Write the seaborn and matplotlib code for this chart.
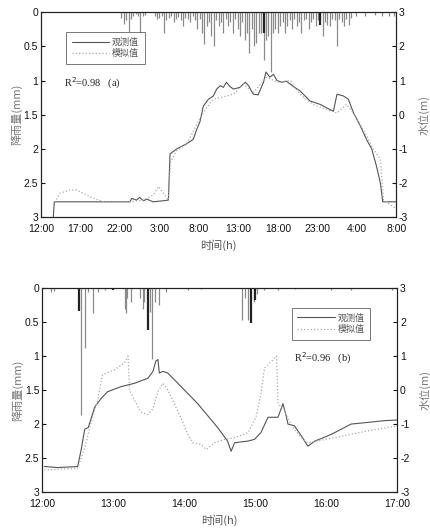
import numpy as np
import pandas as pd
import matplotlib
matplotlib.use("Agg")
import matplotlib.pyplot as plt
import seaborn as sns

sns.set_theme(style="white")
plt.rcParams['font.family'] = ['Liberation Sans', 'Noto Sans CJK SC', 'DejaVu Sans']
plt.rcParams['axes.unicode_minus'] = False

# ---------------- data: panel (a) ----------------
xticks_a = [0, 5, 10, 15, 20, 25, 30, 35, 40, 45]
xlabels_a = ["12:00", "17:00", "22:00", "3:00", "8:00", "13:00", "18:00", "23:00", "4:00", "8:00"]

obs_a_t = [1.56, 1.69, 11.28, 11.5, 12.1, 12.5, 12.97, 13.4, 14.2, 15.5, 16.14, 16.35, 17.2, 18.46,
           19.3, 19.7, 20.15, 20.57, 21.2, 21.84, 22.26, 22.7, 23.1, 23.5, 23.95, 24.4, 25.2, 25.9,
           26.3, 26.9, 27.5, 28.2, 28.5, 29.0, 29.45, 29.9, 30.5, 31.1, 32.0, 32.8, 34.1, 35.4,
           36.2, 37.05, 37.5, 38.3, 38.95, 39.6, 40.4, 41.3, 41.9, 42.5, 43.0, 43.3, 45.0]
obs_a_v = [-3.0, -2.55, -2.55, -2.45, -2.5, -2.42, -2.52, -2.47, -2.55, -2.52, -2.5, -1.15, -1.0, -0.85,
           -0.72, -0.45, -0.2, 0.25, 0.45, 0.55, 0.75, 0.85, 0.8, 0.95, 0.82, 0.75, 0.8, 0.95,
           0.85, 0.6, 0.58, 0.95, 1.25, 1.1, 1.18, 1.0, 0.95, 0.98, 0.82, 0.7, 0.4, 0.3,
           0.2, 0.1, 0.6, 0.55, 0.45, 0.05, -0.3, -0.75, -1.0, -1.5, -2.0, -2.55, -2.55]

sim_a_t = [1.56, 2.4, 3.7, 4.5, 6.2, 7.9, 11.28, 13.0, 14.2, 14.9, 15.5, 16.14, 16.4, 17.2, 18.5,
           20.15, 21.0, 21.8, 22.7, 24.4, 25.6, 26.9, 28.6, 29.9, 31.6, 32.8, 34.5, 36.2, 37.5,
           38.7, 39.6, 40.85, 42.1, 43.0, 43.4, 45.0]
sim_a_v = [-2.65, -2.3, -2.2, -2.2, -2.4, -2.55, -2.55, -2.5, -2.35, -2.1, -2.3, -2.5, -1.4, -1.05, -0.85,
           -0.1, 0.2, 0.45, 0.5, 0.6, 0.9, 0.65, 1.1, 0.95, 1.0, 0.6, 0.3, 0.15, 0.05,
           0.3, 0.05, -0.45, -1.0, -1.3, -2.5, -2.75]

rain_a_t = [10.2, 10.5, 10.8, 11.1, 11.4, 11.7, 12.0, 12.3, 12.6, 12.9, 13.2,
            14.4, 14.7, 15.0, 15.3, 15.6, 15.9, 16.2, 16.5, 16.8, 17.1, 17.4, 17.7, 18.0, 18.3,
            18.6, 18.9, 19.2, 19.5, 19.8, 20.1,
            20.4, 20.7, 21.0, 21.3, 21.6, 21.9, 22.2, 22.5, 22.8, 23.1, 23.4,
            23.7, 24.0, 24.3, 24.6, 24.9, 25.2, 25.5, 25.8, 26.1, 26.4, 26.7, 27.0, 27.3, 27.6,
            27.9, 28.2, 28.5, 28.8, 29.1, 29.4, 29.7, 30.0, 30.3, 30.6, 30.9, 31.2,
            31.5, 31.8, 32.1, 32.4, 32.7, 33.0, 33.3, 33.6, 33.9, 34.2, 34.5, 34.8, 35.1, 35.4,
            35.7, 36.0, 36.3, 36.6, 36.9, 37.2,
            37.5, 37.8, 38.1, 38.4, 38.7, 39.0, 39.3, 39.9, 41.1, 42.3, 43.2, 44.1, 44.7]
rain_a_v = [0.08, 0.17, 0.12, 0.29, 0.10, 0.05, 0.03, 0.05, 0.32, 0.06, 0.04,
            0.06, 0.10, 0.08, 0.05, 0.30, 0.12, 0.08, 0.06, 0.15, 0.10, 0.07, 0.12, 0.20, 0.08,
            0.10, 0.15, 0.06, 0.12, 0.25, 0.10,
            0.30, 0.46, 0.20, 0.15, 0.35, 0.49, 0.12, 0.20, 0.15, 0.30, 0.10,
            0.20, 0.15, 0.30, 0.10, 0.25, 0.35, 0.15, 0.40, 0.30, 0.60, 0.25, 0.50, 0.45, 0.30,
            0.30, 0.70, 0.40, 0.35, 0.88, 0.30, 0.25, 0.30, 0.20, 0.15, 0.30, 0.20,
            0.12, 0.25, 0.10, 0.20, 0.15, 0.30, 0.12, 0.10, 0.25, 0.15, 0.10, 0.20, 0.12, 0.10,
            0.35, 0.15, 0.18, 0.20, 0.10, 0.12,
            0.49, 0.10, 0.15, 0.20, 0.10, 0.18, 0.08, 0.05, 0.05, 0.04, 0.05, 0.06, 0.05]
rain_a_dark_t = [28.2, 35.4]
rain_a_dark_v = [0.30, 0.18]

# ---------------- data: panel (b) ----------------
xticks_b = [12, 13, 14, 15, 16, 17]
xlabels_b = ["12:00", "13:00", "14:00", "15:00", "16:00", "17:00"]

obs_b_t = [12.03, 12.22, 12.5, 12.55, 12.6, 12.65, 12.74, 12.83, 12.92, 13.11, 13.3, 13.49, 13.56,
           13.6, 13.63, 13.65, 13.7, 13.77, 13.91, 14.05, 14.19, 14.33, 14.47, 14.61, 14.66, 14.71,
           14.9, 14.99, 15.08, 15.18, 15.32, 15.39, 15.44, 15.46, 15.55, 15.65, 15.74, 15.84,
           16.02, 16.12, 16.35, 16.59, 16.82, 17.0]
obs_b_v = [-2.25, -2.28, -2.25, -1.75, -1.15, -1.1, -0.5, -0.25, -0.05, 0.1, 0.2, 0.35, 0.55,
           0.85, 0.9, 0.5, 0.55, 0.5, 0.2, -0.1, -0.4, -0.75, -1.1, -1.5, -1.8, -1.55,
           -1.5, -1.45, -1.25, -0.8, -0.8, -0.4, -0.8, -1.0, -1.05, -1.35, -1.65, -1.5,
           -1.35, -1.25, -1.0, -0.95, -0.9, -0.88]

sim_b_t = [12.03, 12.5, 12.6, 12.67, 12.78, 12.85, 13.02, 13.16, 13.21, 13.23, 13.3, 13.39, 13.49,
           13.56, 13.63, 13.7, 13.77, 13.86, 13.96, 14.05, 14.12, 14.24, 14.31, 14.43, 14.57,
           14.71, 14.9, 15.01, 15.08, 15.13, 15.23, 15.3, 15.32, 15.41, 15.51, 15.65, 15.74,
           16.12, 16.59, 17.0]
sim_b_v = [-2.35, -2.3, -1.7, -1.1, -0.3, 0.45, 0.6, 0.8, 1.0, 0.0, -0.3, -0.65, -0.72,
           -0.55, -0.05, 0.2, 0.0, -0.4, -0.85, -1.3, -1.55, -1.6, -1.75, -1.55, -1.45,
           -1.4, -1.25, -0.8, -0.1, 0.65, 0.85, 1.0, -0.4, -0.6, -1.05, -1.4, -1.55,
           -1.4, -1.2, -1.05]

rain_b_t = [12.13, 12.17, 12.55, 12.6, 12.65, 12.72, 12.78, 12.88, 13.16, 13.18, 13.2, 13.25,
            13.38, 13.42, 13.44, 13.52, 13.55, 13.59, 13.64, 13.75, 14.05, 14.24, 14.81, 14.85,
            14.9, 14.98, 15.03, 15.13, 15.32, 15.56, 16.07, 16.35, 16.92]
rain_b_v = [0.05, 0.04, 1.87, 0.88, 0.05, 0.37, 0.05, 0.03, 0.30, 0.37, 0.15, 0.20,
            0.15, 0.30, 0.20, 0.35, 1.05, 0.20, 0.25, 0.05, 0.03, 0.02, 0.47, 0.15,
            0.47, 0.20, 0.08, 0.03, 0.03, 0.02, 0.03, 0.03, 0.03]
rain_b_dark_t = [12.52, 13.0, 13.49, 14.94, 15.0]
rain_b_dark_v = [0.33, 0.03, 0.61, 0.52, 0.17]

# ---------------- drawing ----------------
fig = plt.figure(figsize=(4.3, 5.31), dpi=100)
fs = 7.5
lab_color = "#777777"
obs_color = "#555555"
sim_color = "#aaaaaa"


def panel(rect, xlim, xticks, xlabels, rt, rv, rdt, rdv,
          ot, ov, st, sv, leg_anchor, r2_text, r2_xy):
    ax = fig.add_axes(rect)
    ax.vlines(rt, 0, rv, colors="#8a8a8a", linewidth=0.9, zorder=2)
    ax.vlines(rdt, 0, rdv, colors="#222222", linewidth=1.6, zorder=3)
    ax.set_ylim(3, 0)
    ax.set_yticks([0, 0.5, 1, 1.5, 2, 2.5, 3])
    ax.set_yticklabels(["0", "0.5", "1", "1.5", "2", "2.5", "3"])
    ax.set_xlim(*xlim)
    ax.set_xticks(xticks)
    ax.set_xticklabels(xlabels)
    ax.set_ylabel("降雨量(mm)", fontsize=fs + 0.5, color=lab_color,
                  family=['Noto Sans CJK SC', 'DejaVu Sans'], labelpad=1)
    ax.set_xlabel("时间(h)", fontsize=fs + 0.5, color="#555555",
                  family=['Noto Sans CJK SC', 'DejaVu Sans'], labelpad=4)
    ax2 = ax.twinx()
    ax2.patch.set_visible(False)
    dfo = pd.DataFrame({"t": ot, "v": ov})
    dfs = pd.DataFrame({"t": st, "v": sv})
    sns.lineplot(data=dfo, x="t", y="v", ax=ax2, color=obs_color, lw=0.8,
                 estimator=None, sort=False, label="观测值")
    sns.lineplot(data=dfs, x="t", y="v", ax=ax2, color=sim_color, lw=0.9,
                 linestyle=":", estimator=None, sort=False, label="模拟值")
    ax2.set_ylim(-3, 3)
    ax2.set_yticks([3, 2, 1, 0, -1, -2, -3])
    ax2.set_yticklabels(["3", "2", "1", "0", "-1", "-2", "-3"])
    ax2.set_xlim(*xlim)
    ax2.set_xlabel("")
    ax2.set_ylabel("水位(m)", fontsize=fs + 0.5, color=lab_color,
                   family=['Noto Sans CJK SC', 'DejaVu Sans'], labelpad=7)
    for a in (ax, ax2):
        a.tick_params(direction="in", length=3, width=0.8, labelsize=fs, pad=2, colors="#111111")
        for s in a.spines.values():
            s.set_color("#222222")
            s.set_linewidth(0.8)
    ax.tick_params(axis="x", pad=5)
    leg = ax2.legend(loc="upper left", bbox_to_anchor=leg_anchor, frameon=True,
                     fancybox=False, edgecolor="#555555",
                     prop={'family': ['Noto Sans CJK SC'], 'size': 6.5},
                     handlelength=4.2, borderpad=0.6, labelspacing=0.3,
                     handletextpad=0.3)
    leg.get_frame().set_linewidth(0.7)
    for txt in leg.get_texts():
        txt.set_color("#555555")
    ax2.text(r2_xy[0], r2_xy[1], r2_text, transform=ax2.transAxes, fontsize=7.5,
             family="Liberation Serif", color="#222222", va="center", ha="left")
    return ax, ax2


panel([0.0953, 0.591, 0.826, 0.386], (0, 45), xticks_a, xlabels_a,
      rain_a_t, rain_a_v, rain_a_dark_t, rain_a_dark_v,
      obs_a_t, obs_a_v, sim_a_t, sim_a_v, (0.058, 0.925),
      r"R$^2$=0.98   (a)", (0.065, 0.655))

panel([0.098, 0.0734, 0.826, 0.384], (12, 17), xticks_b, xlabels_b,
      rain_b_t, rain_b_v, rain_b_dark_t, rain_b_dark_v,
      obs_b_t, obs_b_v, sim_b_t, sim_b_v, (0.69, 0.925),
      r"R$^2$=0.96   (b)", (0.71, 0.655))

fig.savefig("out.png", dpi=100)
